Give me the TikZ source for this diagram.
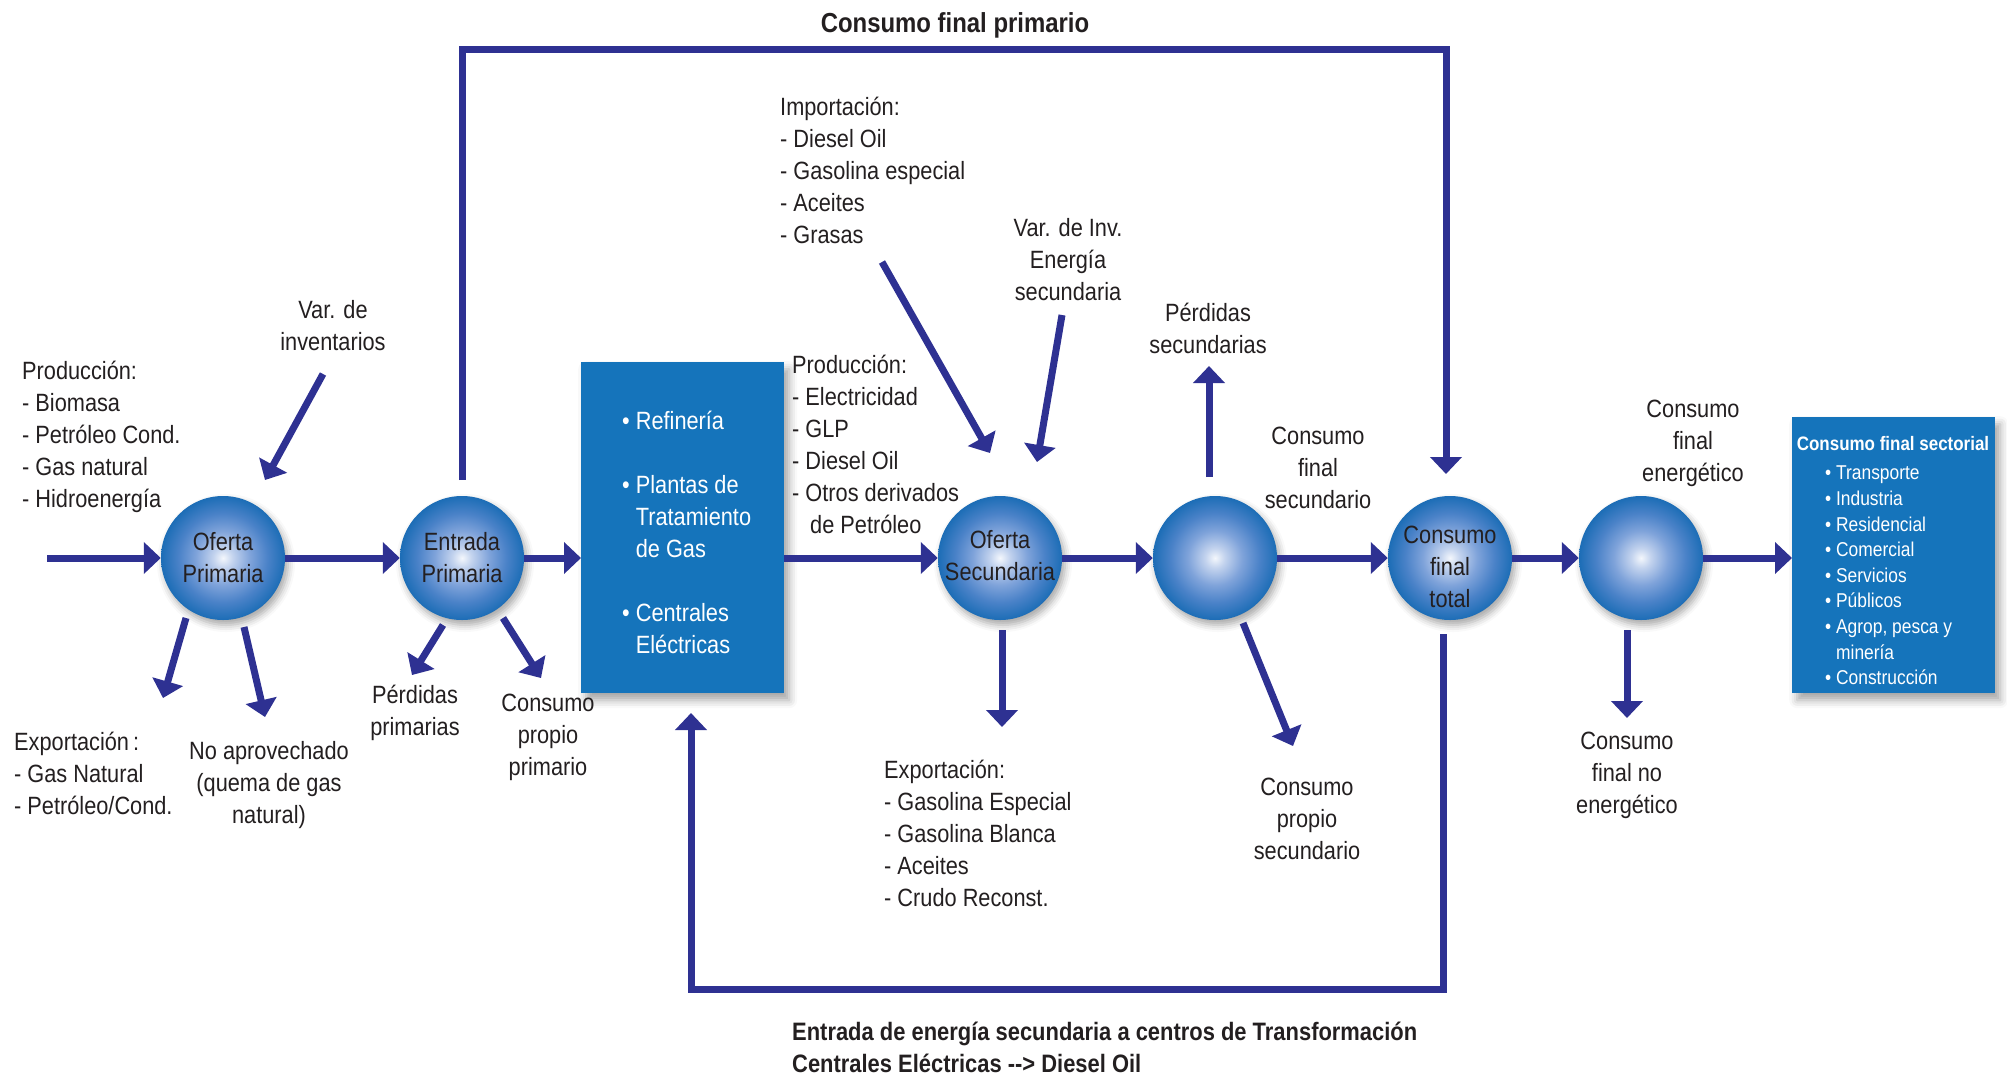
\documentclass[tikz,border=0pt]{standalone}
\usepackage{fontspec}
\setmainfont[FakeStretch=0.87]{Liberation Sans}
\usetikzlibrary{arrows.meta,shadows.blur}
\definecolor{navy}{HTML}{2E3192}
\definecolor{boxblue}{HTML}{1574BB}
\definecolor{txt}{HTML}{231F20}
\definecolor{ballA}{HTML}{F4F7FC}
\definecolor{ballB}{HTML}{C3D3EE}
\definecolor{ballC}{HTML}{7FA3DA}
\definecolor{ballD}{HTML}{4A82C8}
\definecolor{ballE}{HTML}{1C6DB6}
\pgfdeclareradialshading{ballshade}{\pgfpoint{0bp}{0bp}}{color(0bp)=(ballA); color(4bp)=(ballB); color(11bp)=(ballC); color(18bp)=(ballD); color(25bp)=(ballE); color(50bp)=(ballE)}
\begin{document}
\begin{tikzpicture}[x=1pt,y=-1pt,
  flow/.style={draw=navy, line width=7pt, -{Triangle[length=17pt,width=31pt]}},
  ball/.style={circle, minimum size=124pt, inner sep=0pt, shading=ballshade,
    blur shadow={shadow xshift=3pt, shadow yshift=-5pt, shadow blur radius=7pt, shadow opacity=35}},
  bluebox/.style={rectangle, fill=boxblue, inner sep=0pt, anchor=north west,
    blur shadow={shadow xshift=5pt, shadow yshift=-7pt, shadow blur radius=8pt, shadow opacity=35}},
  lbl/.style={inner sep=0pt, align=left, anchor=north west, text=txt, font=\fontsize{25}{32}\selectfont, yshift=-6pt},
  clbl/.style={lbl, align=center, anchor=north},
  ctext/.style={inner sep=0pt, align=center, text=txt, font=\fontsize{25}{32}\selectfont},
  wlist/.style={inner sep=0pt, align=left, anchor=north west, text=white, font=\fontsize{25}{32}\selectfont, yshift=-5pt},
  slist/.style={inner sep=0pt, align=left, anchor=north west, text=white, font=\fontsize{20}{25.6}\selectfont, yshift=-10pt},
  btitle/.style={inner sep=0pt, text=txt, font=\bfseries\fontsize{27.5}{32}\selectfont}
]
\useasboundingbox (0,0) rectangle (2007,1077);

% blue boxes
\node[bluebox, minimum width=203pt, minimum height=331pt] (trans) at (581,362) {};
\node[bluebox, minimum width=203pt, minimum height=276pt] (sect) at (1792,417) {};

% circles
\node[ball] (op) at (223,558) {};
\node[ball] (ep) at (462,558) {};
\node[ball] (os) at (1000,558) {};
\node[ball] (b1) at (1215,558) {};
\node[ball] (cft) at (1450,558) {};
\node[ball] (b2) at (1641,558) {};

\node[ctext] (opt) at (223,558) {Oferta\\Primaria};
\node[ctext] (ept) at (462,558) {Entrada\\Primaria};
\node[ctext] (ost) at (1000,556) {Oferta\\Secundaria};
\node[ctext] (cftt) at (1450,567) {Consumo\\final\\total};

% box texts
\node[wlist] (transt) at (622,406) {• Refinería\\ \\• Plantas de\\\hphantom{• }Tratamiento\\\hphantom{• }de Gas\\ \\• Centrales\\\hphantom{• }Eléctricas};
\node[inner sep=0pt, text=white, font=\bfseries\fontsize{19.5}{24}\selectfont] (sectt) at (1893,444) {Consumo final sectorial};
\node[slist] (sectl) at (1825,456) {• Transporte\\• Industria\\• Residencial\\• Comercial\\• Servicios\\• Públicos\\• Agrop, pesca y\\\hphantom{• }minería\\• Construcción};

% labels
\node[btitle] (title) at (955,25) {Consumo final primario};
\node[lbl, font=\bfseries\fontsize{25.2}{32}\selectfont] (bottomt) at (792,1016) {Entrada de energía secundaria a centros de Transformación\\Centrales Eléctricas -{}-{}> Diesel Oil};

\node[lbl] (prod1) at (22,355) {Producción:\\- Biomasa\\- Petróleo Cond.\\- Gas natural\\- Hidroenergía};
\node[lbl] (exp1) at (14,726) {Exportación\,:\\- Gas Natural\\- Petróleo/Cond.};
\node[lbl] (imp) at (780,91) {Importación:\\- Diesel Oil\\- Gasolina especial\\- Aceites\\- Grasas};
\node[lbl] (prod2) at (792,349) {Producción:\\- Electricidad\\- GLP\\- Diesel Oil\\- Otros derivados\\\hspace*{18pt}de Petróleo};
\node[lbl] (exp2) at (884,754) {Exportación:\\- Gasolina Especial\\- Gasolina Blanca\\- Aceites\\- Crudo Reconst.};

\node[clbl] (varinv) at (333,294) {Var. de\\inventarios};
\node[clbl] (noap) at (269,735) {No aprovechado\\(quema de gas\\natural)};
\node[clbl] (perdp) at (415,679) {Pérdidas\\primarias};
\node[clbl] (consp) at (548,688) {Consumo\\propio\\primario};
\node[clbl] (varinv2) at (1068,212) {Var. de Inv.\\Energía\\secundaria};
\node[clbl] (perds) at (1208,297) {Pérdidas\\secundarias};
\node[clbl] (cfs) at (1318,421) {Consumo\\final\\secundario};
\node[clbl] (cps) at (1307,772) {Consumo\\propio\\secundario};
\node[clbl] (cfe) at (1693,394) {Consumo\\final\\energético};
\node[clbl] (cfne) at (1627,726) {Consumo\\final no\\energético};

% free ends of connectors
\coordinate (src) at (47,558);
\coordinate (v1s) at (323,374);   \coordinate (v1e) at (265,480);
\coordinate (e1s) at (186,618);   \coordinate (e1e) at (163,698);
\coordinate (n1s) at (244,627);   \coordinate (n1e) at (265,717);
\coordinate (p1s) at (443,625);   \coordinate (p1e) at (412,675);
\coordinate (c1s) at (503,618);   \coordinate (c1e) at (541,678);
\coordinate (ims) at (882,262);   \coordinate (ime) at (990,453);
\coordinate (vis) at (1062,315);  \coordinate (vie) at (1037,462);
\coordinate (ps) at (1209,477);   \coordinate (pe) at (1209,366);
\coordinate (xs) at (1002,630);   \coordinate (xe) at (1002,727);
\coordinate (cs) at (1243,623);   \coordinate (ce) at (1293,746);
\coordinate (ns) at (1627,630);   \coordinate (ne) at (1627,718);
\coordinate (eptop) at (462,480);
\coordinate (tr) at (1446,49);
\coordinate (cfttip) at (1446,474);
\coordinate (cftbot) at (1443,634);
\coordinate (bl) at (691,989);
\coordinate (boxin) at (691,713);

% main flow
\draw[flow] (src) -- (op.west);
\draw[flow] (op.east) -- (ep.west);
\draw[flow] (ep.east) -- (ep.east -| trans.west);
\draw[flow] (os.west -| trans.east) -- (os.west);
\draw[flow] (os.east) -- (b1.west);
\draw[flow] (b1.east) -- (cft.west);
\draw[flow] (cft.east) -- (b2.west);
\draw[flow] (b2.east) -- (b2.east -| sect.west);

% side arrows
\draw[flow] (v1s) -- (v1e);
\draw[flow] (e1s) -- (e1e);
\draw[flow] (n1s) -- (n1e);
\draw[flow] (p1s) -- (p1e);
\draw[flow] (c1s) -- (c1e);
\draw[flow] (ims) -- (ime);
\draw[flow] (vis) -- (vie);
\draw[flow] (ps) -- (pe);
\draw[flow] (xs) -- (xe);
\draw[flow] (cs) -- (ce);
\draw[flow] (ns) -- (ne);

% loops
\draw[flow] (eptop) |- (tr) -- (cfttip);
\draw[flow] (cftbot) |- (bl) -- (boxin);
\end{tikzpicture}
\end{document}
